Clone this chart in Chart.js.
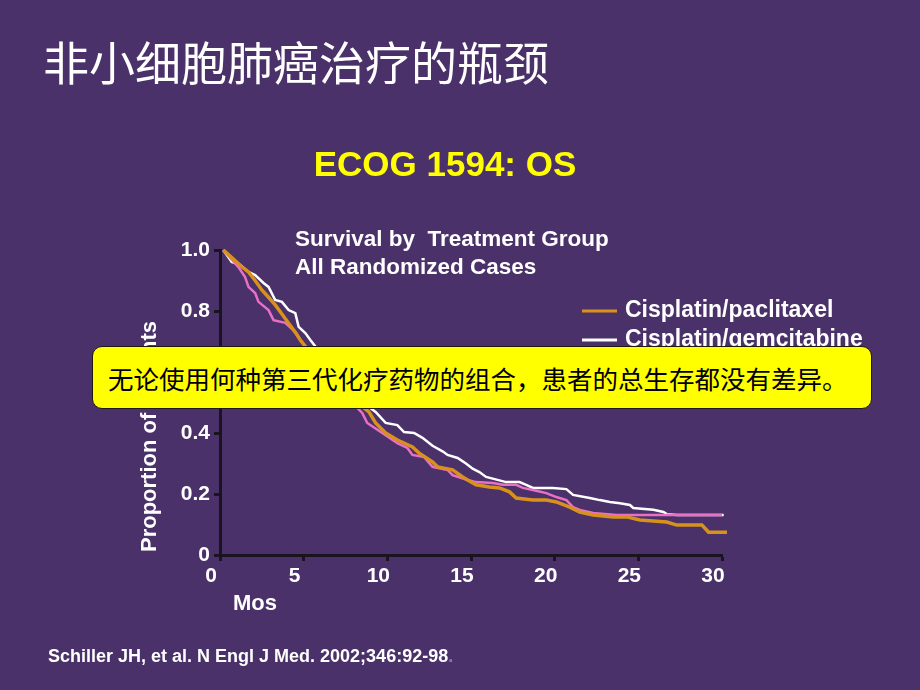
<!DOCTYPE html>
<html lang="zh">
  <head>
    <meta charset="UTF-8" />
    <title>ECOG 1594: OS</title>
    <script src="https://cdn.jsdelivr.net/npm/chart.js"></script>
    <style>
      body {
        margin: 0;
        padding: 0;
        width: 920px;
        height: 690px;
        overflow: hidden;
        position: relative;
        background-color: #4b3169;
        font-family: "Liberation Sans", Arial, sans-serif;
      }
      #osCanvas {
        position: absolute;
        left: 0;
        top: 0;
      }
      .slide-title {
        position: absolute;
        left: 43px;
        top: 37px;
        font-family: "Noto Sans CJK SC", sans-serif;
        font-size: 46px;
        line-height: 1;
        color: #fff;
        white-space: nowrap;
      }
      .chart-title {
        position: absolute;
        left: 0;
        width: 890px;
        top: 146px;
        text-align: center;
        font-weight: bold;
        font-size: 35px;
        line-height: 1;
        color: #ffff00;
      }
      .callout {
        position: absolute;
        left: 92px;
        top: 346px;
        width: 778px;
        height: 61px;
        box-sizing: content-box;
        border: 1.5px solid #1e1a10;
        border-radius: 10px;
        background-color: #ffff00;
        display: flex;
        align-items: center;
        z-index: 2;
      }
      .callout span {
        margin-left: 15px;
        font-family: "Noto Sans CJK SC", sans-serif;
        font-size: 25.5px;
        color: #000;
        white-space: nowrap;
      }
      .cite {
        position: absolute;
        left: 48px;
        top: 647px;
        font-weight: bold;
        font-size: 18px;
        line-height: 1;
        color: #fff;
        white-space: nowrap;
      }
      .cite em {
        font-style: normal;
        color: #8a7f99;
      }
    </style>
  </head>
  <body>
    <canvas id="osCanvas" width="920" height="690"></canvas>
    <div class="slide-title">非小细胞肺癌治疗的瓶颈</div>
    <div class="chart-title">ECOG 1594: OS</div>
    <div class="callout"><span>无论使用何种第三代化疗药物的组合，患者的总生存都没有差异。</span></div>
    <div class="cite">Schiller JH, et al. N Engl J Med. 2002;346:92-98<em>.</em></div>

    <script>
      // Kaplan-Meier curves (months, proportion surviving)
      const seriesLabels = ["Cisplatin/paclitaxel", "Cisplatin/gemcitabine", "Cisplatin/docetaxel"];

      const pacMonths = [0.2, 0.8, 1.3, 1.7, 2.1, 2.5, 2.9, 3.3, 3.7, 4.1, 4.5, 4.8, 5.3, 5.8, 6.4, 7.0, 7.6, 8.2, 8.9, 9.3, 9.9, 10.6, 11.5, 11.9, 12.7, 13.0, 13.9, 14.5, 14.8, 15.3, 16.1, 16.7, 17.3, 17.7, 18.7, 19.5, 20.1, 20.9, 21.5, 22.3, 23.5, 24.3, 25.1, 26.1, 26.7, 27.3, 28.8, 29.2, 30.3];
      const pacSurv = [1.0, 0.97, 0.945, 0.928, 0.9, 0.869, 0.845, 0.82, 0.79, 0.76, 0.73, 0.705, 0.67, 0.63, 0.6, 0.57, 0.53, 0.5, 0.469, 0.433, 0.4, 0.377, 0.354, 0.334, 0.305, 0.289, 0.279, 0.256, 0.246, 0.23, 0.223, 0.22, 0.207, 0.187, 0.18, 0.18, 0.174, 0.157, 0.141, 0.131, 0.125, 0.125, 0.115, 0.111, 0.108, 0.098, 0.098, 0.075, 0.075];

      const gemMonths = [0.2, 0.7, 1.2, 1.7, 2.1, 2.6, 2.9, 3.3, 3.7, 4.1, 4.5, 4.7, 5.1, 5.4, 5.9, 6.5, 7.1, 7.7, 8.3, 9.3, 9.9, 10.6, 11.0, 11.6, 12.1, 12.7, 13.3, 13.6, 14.2, 14.7, 15.1, 15.5, 15.9, 17.1, 17.9, 18.3, 18.7, 19.9, 20.7, 21.1, 22.1, 22.7, 23.3, 23.9, 24.5, 24.7, 25.9, 26.5, 26.7, 27.3, 30.1];
      const gemSurv = [1.0, 0.961, 0.951, 0.928, 0.918, 0.892, 0.879, 0.836, 0.83, 0.803, 0.793, 0.748, 0.728, 0.705, 0.67, 0.63, 0.59, 0.55, 0.51, 0.469, 0.433, 0.426, 0.403, 0.4, 0.384, 0.358, 0.34, 0.328, 0.318, 0.3, 0.283, 0.272, 0.256, 0.239, 0.239, 0.23, 0.22, 0.22, 0.216, 0.197, 0.187, 0.18, 0.174, 0.17, 0.164, 0.154, 0.148, 0.141, 0.134, 0.131, 0.131];

      const docMonths = [0.2, 0.6, 1.1, 1.5, 1.7, 2.1, 2.3, 2.9, 3.2, 3.9, 4.5, 4.8, 5.3, 5.9, 6.5, 7.1, 7.7, 8.5, 8.8, 9.7, 10.6, 11.2, 11.5, 12.2, 12.7, 13.6, 13.9, 14.8, 15.3, 16.3, 16.9, 17.7, 18.1, 18.7, 19.5, 20.1, 20.7, 21.1, 21.5, 22.3, 23.7, 30.0];
      const docSurv = [1.0, 0.975, 0.944, 0.911, 0.879, 0.859, 0.83, 0.803, 0.77, 0.761, 0.731, 0.705, 0.67, 0.63, 0.59, 0.55, 0.51, 0.466, 0.433, 0.4, 0.367, 0.351, 0.328, 0.321, 0.289, 0.279, 0.262, 0.246, 0.239, 0.236, 0.23, 0.23, 0.22, 0.213, 0.203, 0.19, 0.18, 0.157, 0.148, 0.138, 0.131, 0.131];

      const xTickLabels = ["0", "5", "10", "15", "20", "25", "30"];
      const yTickLabels = ["0", "0.2", "0.4", "0.6", "0.8", "1.0"];
      const subtitleLines = ["Survival by  Treatment Group", "All Randomized Cases"];
      const yAxisTitle = "Proportion of Patients";
      const xAxisTitle = "Mos";

      const axisColor = "#1a1420";
      const fontFamily = "'Liberation Sans', Arial, sans-serif";

      function toPoints(months, surv) {
        return months.map((m, i) => ({ x: m, y: surv[i] }));
      }

      // texts around the plot: subtitle, legend, axis titles
      const overlayText = {
        id: "overlayText",
        afterDraw(chart) {
          const ctx = chart.ctx;
          ctx.save();
          ctx.fillStyle = "#fff";
          ctx.textAlign = "left";
          ctx.textBaseline = "middle";

          ctx.font = "bold 22.5px " + fontFamily;
          subtitleLines.forEach((t, i) => ctx.fillText(t, 295, 240 + i * 28));

          ctx.font = "bold 23px " + fontFamily;
          chart.data.datasets.forEach((ds, i) => {
            const y = 311 + i * 29;
            ctx.strokeStyle = ds.borderColor;
            ctx.lineWidth = 3;
            ctx.beginPath();
            ctx.moveTo(582, y);
            ctx.lineTo(617, y);
            ctx.stroke();
            ctx.fillText(ds.label, 625, y);
          });

          ctx.font = "bold 22px " + fontFamily;
          ctx.fillText(xAxisTitle, 233, 604);

          ctx.translate(150, 552);
          ctx.rotate(-Math.PI / 2);
          ctx.fillText(yAxisTitle, 0, 0);
          ctx.restore();
        },
      };

      const ctx = document.getElementById("osCanvas").getContext("2d");

      new Chart(ctx, {
        type: "line",
        data: {
          datasets: [
            {
              label: seriesLabels[0],
              data: toPoints(pacMonths, pacSurv),
              borderColor: "#d8921c",
              borderWidth: 3.5,
              order: 0,
            },
            {
              label: seriesLabels[1],
              data: toPoints(gemMonths, gemSurv),
              borderColor: "#ffffff",
              borderWidth: 2.5,
              order: 2,
            },
            {
              label: seriesLabels[2],
              data: toPoints(docMonths, docSurv),
              borderColor: "#ea70c6",
              borderWidth: 2.5,
              order: 1,
            },
          ],
        },
        options: {
          responsive: false,
          animation: false,
          datasets: {
            line: {
              tension: 0,
              pointRadius: 0,
              fill: false,
              clip: 8,
            },
          },
          layout: {
            padding: { left: 0, top: 250, right: 198, bottom: 95 },
          },
          plugins: {
            legend: { display: false },
            tooltip: { enabled: false },
          },
          scales: {
            x: {
              type: "linear",
              min: 0,
              max: 30,
              afterFit: (s) => {
                s.height = 40;
              },
              ticks: {
                stepSize: 5,
                color: "#fff",
                padding: 3,
                labelOffset: -9,
                maxRotation: 0,
                font: { family: fontFamily, size: 21, weight: "bold" },
                callback: (v, i) => xTickLabels[i],
              },
              grid: {
                drawOnChartArea: false,
                drawTicks: true,
                tickLength: 6,
                tickWidth: 3,
                tickColor: axisColor,
              },
              border: { display: true, color: axisColor, width: 3 },
            },
            y: {
              type: "linear",
              min: 0,
              max: 1,
              afterFit: (s) => {
                s.width = 220;
              },
              ticks: {
                stepSize: 0.2,
                color: "#fff",
                padding: 4,
                font: { family: fontFamily, size: 21, weight: "bold" },
                callback: (v, i) => yTickLabels[i],
              },
              grid: {
                drawOnChartArea: false,
                drawTicks: true,
                tickLength: 6,
                tickWidth: 3,
                tickColor: axisColor,
              },
              border: { display: true, color: axisColor, width: 3 },
            },
          },
        },
        plugins: [overlayText],
      });
    </script>
  </body>
</html>
